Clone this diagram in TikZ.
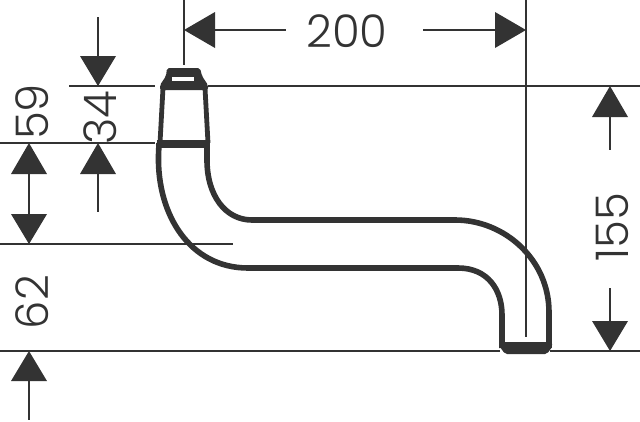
\documentclass[tikz,border=0pt]{standalone}
\usepackage{fontspec}
\setmainfont{Poppins Light}
\definecolor{ink}{HTML}{333333}
\tikzset{
  x=1pt,y=-1pt,
  dimline/.style={draw=ink,line width=1.9pt},
  pipe/.style={draw=ink,line width=5.6pt,line join=round},
  tip/.style={fill=ink,draw=none},
  dimtext/.style={text=ink,font=\fontsize{45}{45}\selectfont,inner sep=0pt}
}
\newcommand{\arrowdown}[3]{\fill[tip] (#1,#2) -- (#1-18,#3) -- (#1+18,#3) -- cycle;}
\newcommand{\arrowhoriz}[3]{\fill[tip] (#1,#3) -- (#2,#3-18) -- (#2,#3+18) -- cycle;}
\begin{document}
\begin{tikzpicture}
\useasboundingbox (0,0) rectangle (640,421);
% extension lines
\draw[dimline] (69,86) -- (155,86);
\draw[dimline] (208,86) -- (640,86);
\draw[dimline] (0,143) -- (155,143);
\draw[dimline] (0,244) -- (233,244);
\draw[dimline] (0,351) -- (500,351);
\draw[dimline] (550,351) -- (640,351);
\draw[dimline] (184,0) -- (184,65);
\draw[dimline] (526,0) -- (526,337);
% dim lines
\draw[dimline] (215,30) -- (286,30);
\draw[dimline] (423,30) -- (495,30);
\draw[dimline] (98,17) -- (98,57);
\draw[dimline] (98,174) -- (98,212);
\draw[dimline] (29,174) -- (29,214);
\draw[dimline] (29,381) -- (29,420);
\draw[dimline] (610,117) -- (610,150);
\draw[dimline] (610,288) -- (610,321);
% arrowheads
\arrowhoriz{184}{215}{30}
\arrowhoriz{526}{495}{30}
\arrowdown{98}{86}{56}
\arrowdown{98}{143}{174}
\arrowdown{29}{143}{174}
\arrowdown{29}{244}{214}
\arrowdown{29}{351}{381}
\arrowdown{610}{86}{117}
\arrowdown{610}{351}{321}
% labels
\node[dimtext] (d200) at (347,31) {200};
\node[dimtext,rotate=90] (d59) at (32,112) {59};
\node[dimtext,rotate=90] (d34) at (100,118) {34};
\node[dimtext,rotate=90] (d62) at (32,302) {62};
\node[dimtext,rotate=90] (d155) at (612,227) {155};
% spout
\draw[pipe] (159,143) -- (158.5,155) .. controls (157,215) and (190,268) .. (248,268) -- (458,268)
  .. controls (488,268) and (502,290) .. (502,315) -- (502,348);
\draw[pipe] (207,143) -- (207,160) .. controls (207,195) and (225,220) .. (252,220) -- (455,220)
  .. controls (505,220) and (549,260) .. (549,312) -- (549,348);
% head
\draw[pipe,line width=4.8pt] (163,88) -- (160,143);
\draw[pipe,line width=4.8pt] (205,88) -- (208,143);
\fill[ink] (157,140) rectangle (210,148);
\fill[ink,rounded corners=2pt] (160,90) -- (160,85) -- (166,76) -- (167,68) -- (200,68) -- (202,76) -- (208,85) -- (208,90) -- cycle;
\fill[white] (172,77) rectangle (194,80.5);
% nozzle
\fill[ink,rounded corners=2pt] (500,342) -- (552,342) -- (552,347) -- (547,354) -- (505,354) -- (500,347) -- cycle;
\end{tikzpicture}
\end{document}
